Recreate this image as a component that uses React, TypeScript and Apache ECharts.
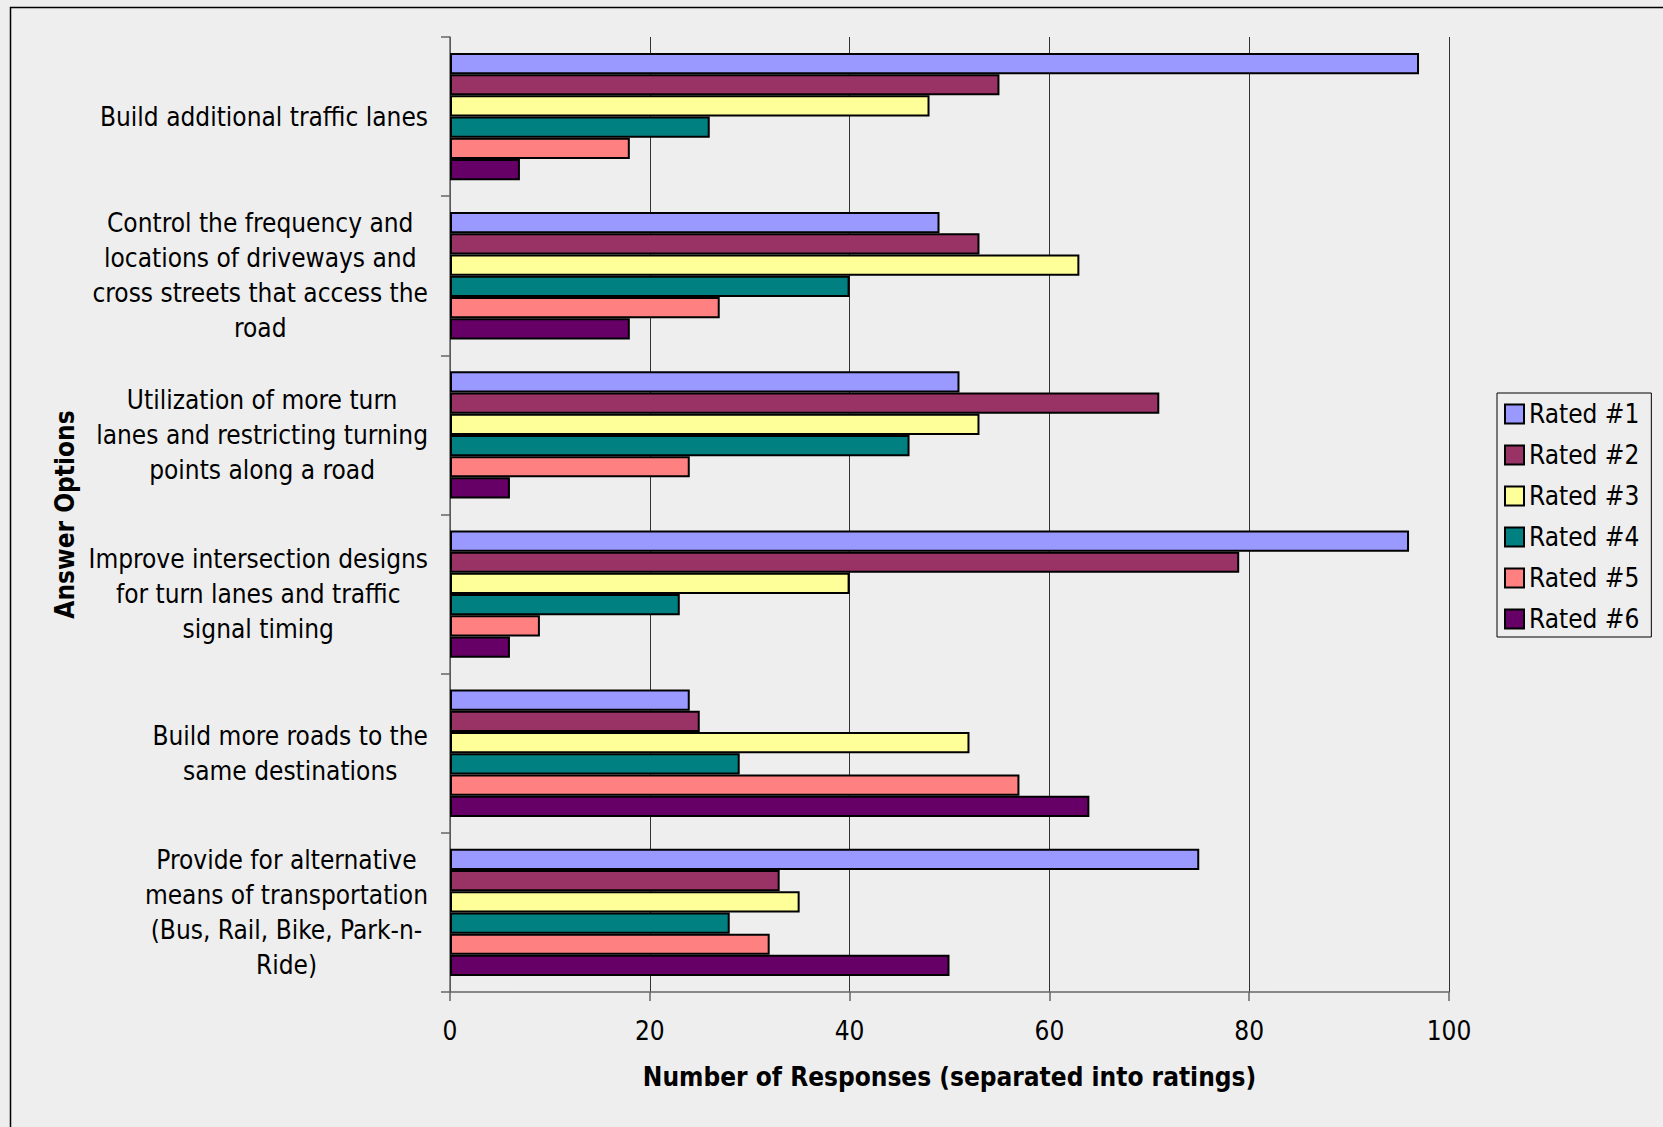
import React, { useEffect, useRef } from "react";
import * as echarts from "echarts";

const categories = [
  "Build additional traffic lanes",
  "Control the frequency and\nlocations of driveways and\ncross streets that access the\nroad",
  "Utilization of more turn\nlanes and restricting turning\npoints along a road",
  "Improve intersection designs\nfor turn lanes and traffic\nsignal timing",
  "Build more roads to the\nsame destinations",
  "Provide for alternative\nmeans of transportation\n(Bus, Rail, Bike, Park-n-\nRide)",
];

const seriesNames = ["Rated #1", "Rated #2", "Rated #3", "Rated #4", "Rated #5", "Rated #6"];

const rated1 = [97, 49, 51, 96, 24, 75];
const rated2 = [55, 53, 71, 79, 25, 33];
const rated3 = [48, 63, 53, 40, 52, 35];
const rated4 = [26, 40, 46, 23, 29, 28];
const rated5 = [18, 27, 24, 9, 57, 32];
const rated6 = [7, 18, 6, 6, 64, 50];

const seriesValues = [rated1, rated2, rated3, rated4, rated5, rated6];
const seriesColors = ["#9999FF", "#993366", "#FFFF99", "#008080", "#FF8080", "#660066"];

const xAxisTitle = "Number of Responses (separated into ratings)";
const yAxisTitle = "Answer Options";

const FONT = "'DejaVu Sans Condensed', 'DejaVu Sans', sans-serif";

export default function App() {
  const ref = useRef<HTMLDivElement>(null);

  useEffect(() => {
    if (!ref.current) return;
    const chart = echarts.init(ref.current, null, { renderer: "svg" });
    const option: any = {
      animation: false,
      backgroundColor: "#eeeeee",
      textStyle: { fontFamily: FONT, color: "#000" },
      graphic: [
        {
          type: "rect",
          left: 8,
          top: 5,
          shape: { width: 1700, height: 1200 },
          style: { fill: "none", stroke: "#000", lineWidth: 1.5 },
          silent: true,
        },
      ],
      grid: { left: 450, top: 37, right: 214, bottom: 135, containLabel: false },
      legend: {
        orient: "vertical",
        left: 1497,
        top: 393,
        itemWidth: 19,
        itemHeight: 19,
        itemGap: 15,
        padding: [8, 12, 5, 7],
        borderColor: "#000",
        borderWidth: 1,
        backgroundColor: "#eeeeee",
        icon: "rect",
        textStyle: { fontFamily: FONT, fontSize: 26, color: "#000" },
        data: seriesNames,
      },
      xAxis: {
        type: "value",
        min: 0,
        max: 100,
        interval: 20,
        axisLine: { show: true, lineStyle: { color: "#666", width: 1.5 } },
        axisTick: { show: true, length: 9, lineStyle: { color: "#666", width: 1.5 } },
        splitLine: { show: true, lineStyle: { color: "#333", width: 1 } },
        axisLabel: { fontFamily: FONT, fontSize: 26, color: "#000", margin: 26 },
        name: xAxisTitle,
        nameLocation: "middle",
        nameGap: 72,
        nameTextStyle: { fontFamily: FONT, fontSize: 26, fontWeight: "bold", color: "#000" },
      },
      yAxis: {
        type: "category",
        inverse: true,
        data: categories,
        axisLine: { show: true, lineStyle: { color: "#666", width: 1.5 } },
        axisTick: { show: true, length: 9, lineStyle: { color: "#666", width: 1.5 } },
        splitLine: { show: false },
        axisLabel: {
          margin: 22,
          formatter: (v: string) =>
            v
              .split("\n")
              .map((l) => "{c|" + l + "}")
              .join("\n"),
          rich: {
            c: { align: "center", fontFamily: FONT, fontSize: 26, lineHeight: 35, color: "#000" },
          },
        },
        name: yAxisTitle,
        nameLocation: "middle",
        nameRotate: 90,
        nameGap: 372,
        nameTextStyle: { fontFamily: FONT, fontSize: 26, fontWeight: "bold", color: "#000" },
      },
      series: seriesNames.map((name, i) => ({
        name,
        type: "bar",
        data: seriesValues[i],
        barGap: "0%",
        barCategoryGap: "20%",
        itemStyle: { color: seriesColors[i], borderColor: "#000", borderWidth: 2 },
      })),
    };
    chart.setOption(option);
    return () => chart.dispose();
  }, []);

  return (
    <div
      ref={ref}
      style={{ position: "fixed", left: 0, top: 0, width: 1663, height: 1127 }}
    />
  );
}
